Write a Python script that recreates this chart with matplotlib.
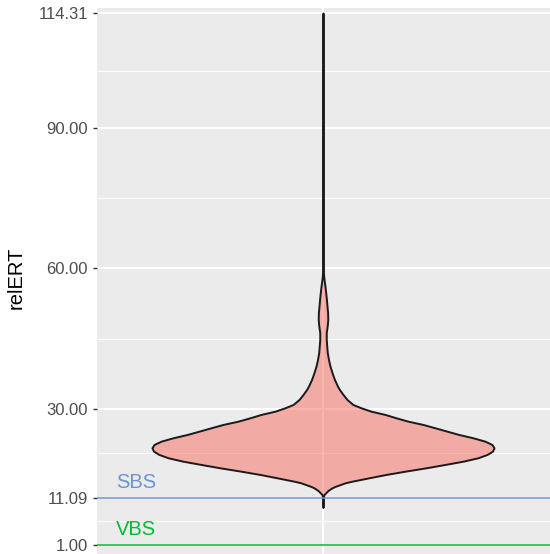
import numpy as np
import matplotlib.pyplot as plt

# ── data ─────────────────────────────────────────────────────────────────────
y_ticks = [1.00, 11.09, 30.00, 60.00, 90.00, 114.31]
y_tick_labels = ["1.00", "11.09", "30.00", "60.00", "90.00", "114.31"]

# violin outline: relERT value vs. relative half-width (1 = widest point)
violin_y = [8.89, 11.23, 11.66, 12.51, 13.09, 13.43, 14.16, 14.50, 15.22, 15.93,
            16.63, 17.35, 18.06, 18.76, 19.49, 20.19, 20.89, 21.62, 22.32, 23.03,
            23.75, 24.45, 25.16, 25.88, 26.59, 27.29, 28.01, 28.72, 29.42, 30.15,
            30.85, 31.92, 32.98, 34.05, 34.75, 36.18, 37.61, 39.02, 40.45, 41.94,
            43.28, 44.71, 46.14, 47.70, 48.97, 50.47, 51.96, 53.24, 54.67, 56.22,
            57.50, 58.78, 60.06, 114.31]
violin_w = [0.0, 0.003, 0.006, 0.029, 0.053, 0.074, 0.130, 0.170, 0.269, 0.368,
            0.480, 0.602, 0.713, 0.819, 0.906, 0.959, 0.991, 1.0, 0.988, 0.947,
            0.877, 0.795, 0.725, 0.655, 0.585, 0.497, 0.427, 0.363, 0.281, 0.222,
            0.175, 0.140, 0.117, 0.096, 0.085, 0.067, 0.053, 0.041, 0.032, 0.025,
            0.022, 0.019, 0.019, 0.025, 0.028, 0.027, 0.023, 0.020, 0.016, 0.011,
            0.006, 0.003, 0.002, 0.0]

ref_names = ["SBS", "VBS"]
ref_values = [11.09, 1.00]
ref_colors = ["#6A94D4", "#00BA38"]

# ── figure ───────────────────────────────────────────────────────────────────
plt.rcParams["font.family"] = ["Liberation Sans", "DejaVu Sans"]
fig = plt.figure(figsize=(5.5, 5.54), dpi=100)
ax = fig.add_axes([97 / 550, 0.0, 1 - 97 / 550, 1 - 8 / 554])
ax.set_facecolor("#EBEBEB")
for s in ax.spines.values():
    s.set_visible(False)

ax.set_xlim(0.4, 1.6)
ax.set_ylim(-0.92, 115.48)

# grid (ggplot style)
minor = [(a + b) / 2 for a, b in zip(y_ticks[:-1], y_ticks[1:])]
for m in minor:
    ax.axhline(m, color="white", lw=0.7, zorder=0.5)
for t in y_ticks:
    ax.axhline(t, color="white", lw=1.4, zorder=0.6)
ax.axvline(1, color="white", lw=1.4, zorder=0.6)

# violin
vy = np.array(violin_y)
hw = np.array(violin_w) * 0.453
xs = np.concatenate([1 - hw, (1 + hw)[::-1]])
ys = np.concatenate([vy, vy[::-1]])
ax.fill(xs, ys, facecolor=(248 / 255, 118 / 255, 109 / 255, 0.55),
        edgecolor="#1A1A1A", lw=1.4, joinstyle="round", zorder=2)

# reference lines
for name, val, col in zip(ref_names, ref_values, ref_colors):
    ax.axhline(val, color=col, lw=1.1, zorder=3)
    ax.text(0.45, val + 1.3, name, color=col, fontsize=14.5,
            ha="left", va="bottom", zorder=4)

ax.set_yticks(y_ticks)
ax.set_yticklabels(y_tick_labels)
ax.tick_params(axis="y", length=3, width=1.0, color="#333333",
               labelcolor="#4D4D4D", labelsize=12, pad=3.5)
ax.tick_params(axis="x", length=0, labelbottom=False)
ax.set_ylabel("relERT", fontsize=14.5, color="black")
ax.yaxis.set_label_coords(-(97 - 26) / 453, (554 - 278) / 546)

fig.savefig("out.png", dpi=100)
